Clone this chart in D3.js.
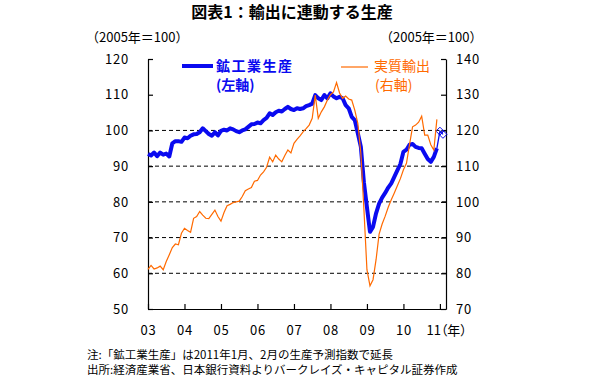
<!DOCTYPE html>
<html>
<head>
<meta charset="utf-8">
<script src="https://cdn.jsdelivr.net/npm/d3@7"></script>
<style>
  body { margin: 0; background: #fff; }
  svg text { font-family: "Noto Sans CJK JP", "Noto Sans", sans-serif; }
</style>
</head>
<body>
<div id="chart"></div>
<script>
// monthly values from Jan 2003, index 0 = 2003-01
var yearLabels = ["03", "04", "05", "06", "07", "08", "09", "10", "11"];
var yearUnit = "（年）";
var leftTicks = [50, 60, 70, 80, 90, 100, 110, 120];
var rightTicks = [70, 80, 90, 100, 110, 120, 130, 140];
var gridValues = [60, 70, 80, 90, 100];

// 鉱工業生産 (left axis), 2003-01 .. 2010-12
var production = [
  93.4, 93.0, 93.8, 92.8, 93.8, 93.2, 93.5, 92.7, 96.4, 97.0, 97.0, 96.8,
  98.0, 97.8, 98.5, 98.9, 99.0, 99.5, 100.6, 99.8, 99.0, 98.5, 99.5, 98.6,
  99.9, 100.2, 100.0, 100.6, 100.3, 99.8, 99.5, 100.0, 100.3, 101.0, 101.7, 101.8,
  102.2, 102.0, 102.9, 103.5, 104.8, 104.3, 105.1, 105.5, 105.3, 106.0, 106.6, 106.0,
  105.7, 106.2, 106.0, 106.2, 106.8, 107.1, 107.5, 109.9, 109.0, 108.5, 109.9, 109.0,
  110.4, 109.5, 109.0, 109.4, 109.0, 107.1, 106.2, 103.8, 102.9, 99.2, 95.4, 85.5,
  78.5, 71.6, 73.0, 76.8, 79.5, 81.2, 82.5, 84.0, 85.2, 87.0, 88.8, 90.6,
  94.0, 94.6, 96.0, 96.2, 95.4, 95.1, 95.0, 93.5, 92.0, 91.2, 92.6, 95.0
];
// 生産予測指数 extension, 2010-12 .. 2011-02
var forecastMonths = [95, 96, 97];
var forecast = [95.0, 99.8, 98.9];

// 実質輸出 (right axis), 2003-01 .. 2010-12
var exports = [
  81.1, 82.2, 81.2, 81.5, 82.0, 81.0, 83.3, 85.2, 87.2, 88.2, 88.0, 91.2,
  92.6, 92.0, 91.5, 95.4, 95.9, 97.3, 96.3, 95.4, 95.3, 96.5, 97.7, 95.9,
  94.6, 97.0, 98.9, 99.3, 99.8, 100.0, 100.2, 101.5, 103.1, 103.6, 104.0, 105.8,
  106.0, 107.5, 108.4, 109.7, 112.5, 111.2, 113.1, 112.0, 111.2, 113.0, 114.5, 113.7,
  116.4, 117.5, 118.5, 119.6, 120.5, 121.5, 123.4, 129.9, 123.4, 125.2, 126.6, 128.5,
  130.0, 130.8, 133.4, 130.5, 129.0, 129.6, 128.8, 128.5, 125.7, 122.0, 113.6, 98.0,
  81.0, 76.5, 78.2, 83.8, 91.0, 93.8, 96.0, 98.5, 100.6, 102.5, 104.5, 106.5,
  109.0, 110.8, 116.0, 121.0, 121.5, 122.3, 124.0, 118.7, 118.7, 116.0, 114.5, 123.1
];

var margin = {top: 59, left: 148, right: 154, bottom: 74},
    width = 600 - margin.left - margin.right,
    height = 383 - margin.top - margin.bottom;

var svg = d3.select("#chart")
  .append("svg")
    .attr("width", 600)
    .attr("height", 383);

var g = svg.append("g")
    .attr("transform", "translate(" + margin.left + "," + margin.top + ")");

var x = d3.scaleLinear().domain([0, 98]).range([0, width]);
var yL = d3.scaleLinear().domain([50, 120]).range([height, 0]);
var yR = d3.scaleLinear().domain([70, 140]).range([height, 0]);

// title
svg.append("text")
    .attr("x", 292)
    .attr("y", 18)
    .attr("text-anchor", "middle")
    .style("font-size", "16px")
    .style("font-weight", "bold")
    .text("図表1：輸出に連動する生産");

// unit labels
svg.append("text")
    .attr("x", 86).attr("y", 42)
    .style("font-size", "13px")
    .text("（2005年＝100）");
svg.append("text")
    .attr("x", 380).attr("y", 42)
    .style("font-size", "13px")
    .text("（2005年＝100）");

// gridlines
g.selectAll(".grid")
  .data(gridValues)
  .enter()
  .append("line")
    .attr("x1", 0)
    .attr("x2", width)
    .attr("y1", function(d) { return yL(d); })
    .attr("y2", function(d) { return yL(d); })
    .attr("stroke", "#000")
    .attr("stroke-width", 1)
    .attr("stroke-dasharray", "4,3");

// axes
var last = yearLabels.length - 1;
var leftAxis = g.append("g")
    .call(d3.axisLeft(yL).tickValues(leftTicks).tickSizeInner(-5).tickSizeOuter(0).tickPadding(19));
var rightAxis = g.append("g")
    .attr("transform", "translate(" + width + ",0)")
    .call(d3.axisRight(yR).tickValues(rightTicks).tickSizeInner(-5).tickSizeOuter(0).tickPadding(10));
var bottomAxis = g.append("g")
    .attr("transform", "translate(0," + height + ")")
    .call(d3.axisBottom(x)
      .tickValues(d3.range(yearLabels.length).map(function(i) { return i * 12; }))
      .tickFormat(function(d, i) { return i === last ? yearLabels[i] + yearUnit : yearLabels[i]; })
      .tickSizeInner(-5).tickSizeOuter(0).tickPadding(17));

[leftAxis, rightAxis, bottomAxis].forEach(function(a) {
  a.selectAll("path, line").attr("stroke", "#000").attr("stroke-width", 1.2);
  a.selectAll("text")
    .attr("fill", "#000")
    .style("font-size", "13px")
    .style("letter-spacing", "0.8px");
});

// last year label carries the unit, starts left of its tick
bottomAxis.selectAll(".tick text")
  .filter(function(d) { return d === last * 12; })
    .attr("text-anchor", "start")
    .attr("x", -14)
    .style("letter-spacing", "0px")
    .style("font-feature-settings", "\"palt\"");

// lines
var prodLine = d3.line()
    .x(function(d, i) { return x(i); })
    .y(function(d) { return yL(d); });
var expLine = d3.line()
    .x(function(d, i) { return x(i); })
    .y(function(d) { return yR(d); });
var fcLine = d3.line()
    .x(function(d, i) { return x(forecastMonths[i]); })
    .y(function(d) { return yL(d); });

g.append("path")
    .datum(production)
    .attr("fill", "none")
    .attr("stroke", "#0a0af0")
    .attr("stroke-width", 4)
    .attr("stroke-linejoin", "round")
    .attr("d", prodLine);

g.append("path")
    .datum(forecast)
    .attr("fill", "none")
    .attr("stroke", "#0a0af0")
    .attr("stroke-width", 1.3)
    .attr("d", fcLine);

g.selectAll(".fc")
  .data(forecast.slice(1))
  .enter()
  .append("path")
    .attr("d", d3.symbol().type(d3.symbolDiamond2).size(40))
    .attr("transform", function(d, i) { return "translate(" + x(forecastMonths[i + 1]) + "," + yL(d) + ")"; })
    .attr("fill", "none")
    .attr("stroke", "#0a0af0")
    .attr("stroke-width", 1);

g.append("path")
    .datum(exports)
    .attr("fill", "none")
    .attr("stroke", "#ff6a00")
    .attr("stroke-width", 1.2)
    .attr("d", expLine);

// legend
svg.append("line")
    .attr("x1", 182).attr("x2", 213)
    .attr("y1", 66).attr("y2", 66)
    .attr("stroke", "#0a0af0")
    .attr("stroke-width", 4);
svg.append("text")
    .attr("x", 216).attr("y", 71)
    .attr("fill", "#0a0af0")
    .style("font-size", "14px")
    .style("font-weight", "bold")
    .style("letter-spacing", "1.5px")
    .text("鉱工業生産");
svg.append("text")
    .attr("x", 216).attr("y", 90)
    .attr("fill", "#0a0af0")
    .style("font-size", "14px")
    .style("font-weight", "bold")
    .text("(左軸)");

svg.append("line")
    .attr("x1", 341).attr("x2", 368)
    .attr("y1", 67).attr("y2", 67)
    .attr("stroke", "#ff6a00")
    .attr("stroke-width", 1.2);
svg.append("text")
    .attr("x", 374).attr("y", 71)
    .attr("fill", "#ff6a00")
    .style("font-size", "14px")
    .text("実質輸出");
svg.append("text")
    .attr("x", 375).attr("y", 90)
    .attr("fill", "#ff6a00")
    .style("font-size", "14px")
    .text("(右軸)");

// notes
svg.append("text")
    .attr("x", 87).attr("y", 359)
    .style("font-size", "11.5px")
    .text("注:「鉱工業生産」は2011年1月、2月の生産予測指数で延長");
svg.append("text")
    .attr("x", 87).attr("y", 374)
    .style("font-size", "11.5px")
    .text("出所:経済産業省、日本銀行資料よりバークレイズ・キャピタル証券作成");
</script>
</body>
</html>
